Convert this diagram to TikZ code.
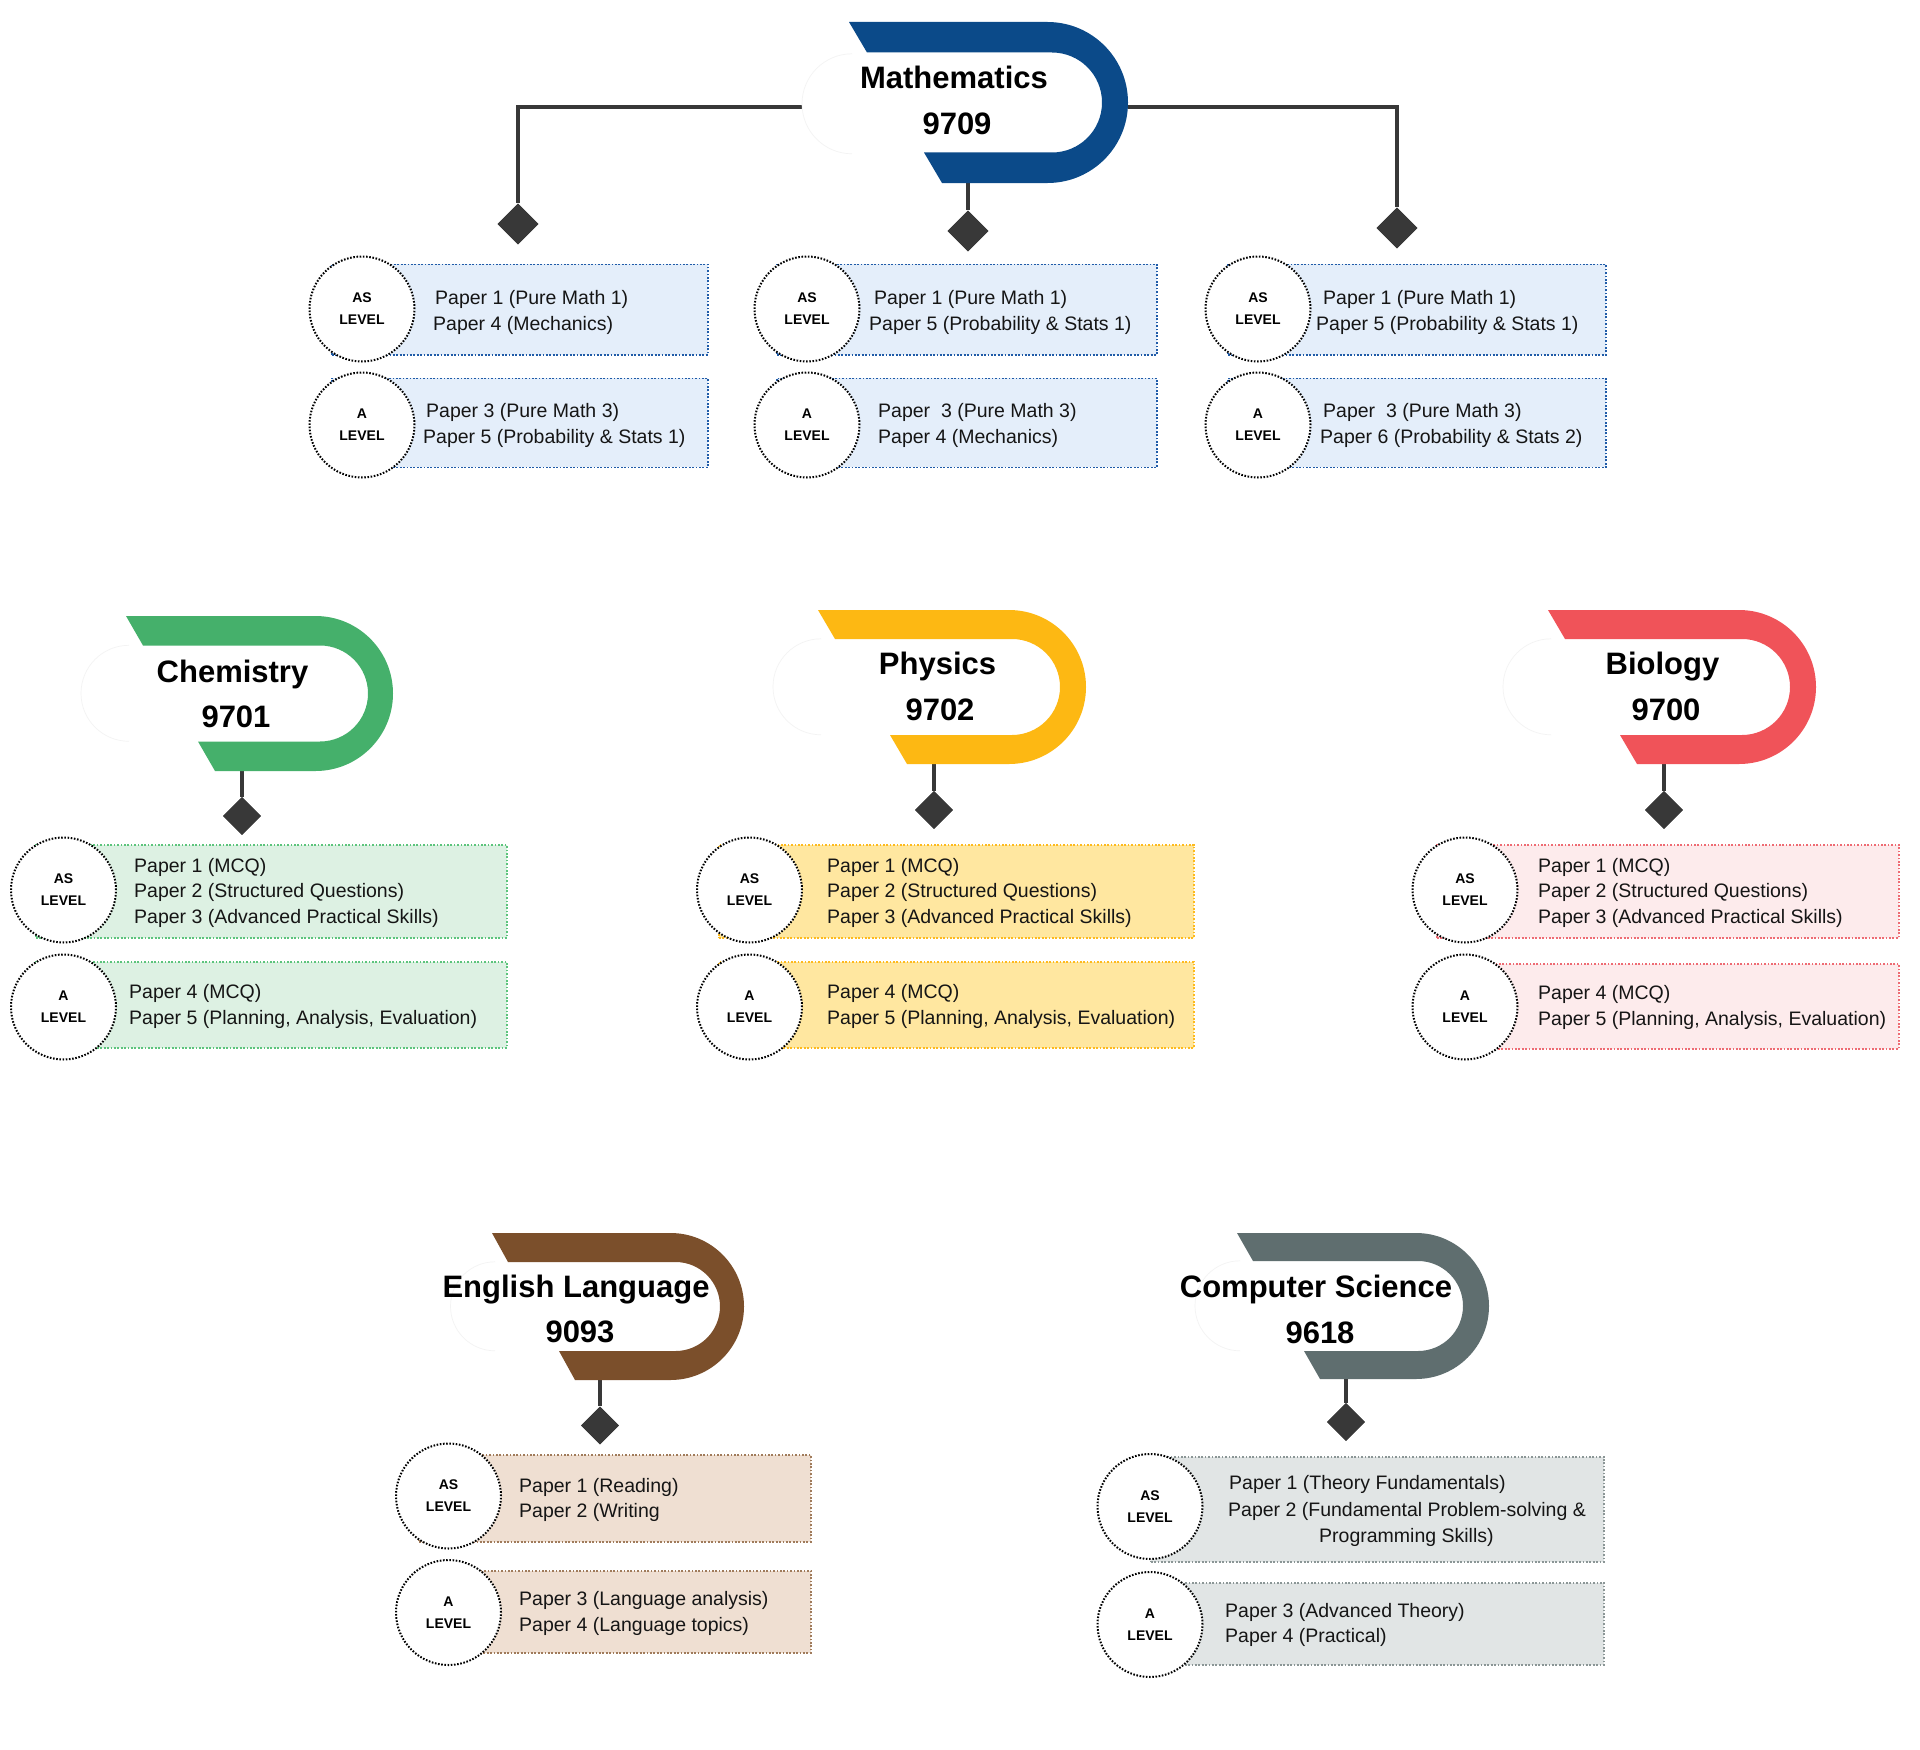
\documentclass[tikz,border=0pt]{standalone}
\usepackage{fontspec}
\setmainfont{Liberation Sans}
\usetikzlibrary{shapes.geometric}
\definecolor{connc}{HTML}{383838}
\definecolor{haloc}{HTML}{F3F3F3}
\definecolor{txtc}{HTML}{151515}
\definecolor{mathc}{HTML}{0B4A89}
\definecolor{mathf}{HTML}{E4EEFA}
\definecolor{mathb}{HTML}{1F5BA8}
\definecolor{chemc}{HTML}{45B06B}
\definecolor{chemf}{HTML}{DDF1E3}
\definecolor{chemb}{HTML}{5CC47C}
\definecolor{physc}{HTML}{FDB813}
\definecolor{physf}{HTML}{FFE7A0}
\definecolor{physb}{HTML}{FDBA1E}
\definecolor{bioc}{HTML}{F05359}
\definecolor{biof}{HTML}{FDEBEC}
\definecolor{biob}{HTML}{EE6B73}
\definecolor{engc}{HTML}{7B4F2B}
\definecolor{engf}{HTML}{EFDFD2}
\definecolor{engb}{HTML}{A07B5B}
\definecolor{csc}{HTML}{5F6E6F}
\definecolor{csf}{HTML}{E1E5E5}
\definecolor{csb}{HTML}{8B9696}
% #1 colour, #2 x0, #3 top, #4 bottom, #5 band, #6 slant, #7 bottom band offset, #8 outer right, #9 inner right
\newcommand{\subjshape}[9]{%
  \pgfmathsetmacro\shRo{(#4-#3)/2}%
  \pgfmathsetmacro\shRi{\shRo-#5}%
  \pgfmathsetmacro\shcxo{#8-\shRo}%
  \pgfmathsetmacro\shcxi{#9-\shRi}%
  \pgfmathsetmacro\shyit{#3+#5}%
  \pgfmathsetmacro\shyib{#4-#5}%
  \fill[#1] (#2,#3) -- (\shcxo,#3) arc[start angle=-90,end angle=90,radius=\shRo]
    -- ({#2+#7+#6},#4) -- ({#2+#7},\shyib) -- (\shcxi,\shyib)
    arc[start angle=90,end angle=-90,radius=\shRi] -- ({#2+#6},\shyit) -- cycle;
}
% faint white disc behind a title: #1 name, #2 x, #3 y, #4 radius
\newcommand{\halodisc}[4]{%
  \node[halo, minimum size=2*#4 pt] (#1) at (#2,#3) {};
  \draw[haloc, line width=0.7pt] (#1.north) arc[start angle=-90,end angle=-270,radius=#4];
}
\tikzset{
  conn/.style={draw=connc, line width=4.5pt},
  dia/.style={diamond, fill=connc, inner sep=0pt, minimum size=38pt},
  lvlc/.style={circle, draw=black, fill=white, line width=2pt, dash pattern=on 1.6pt off 1.6pt,
    minimum size=105pt, inner sep=0pt, align=center, text=black,
    font=\fontsize{14}{22}\selectfont\bfseries},
  pbox/.style={rectangle, line width=1.6pt, dash pattern=on 1.7pt off 1.7pt, inner sep=0pt, anchor=north west},
  ptext/.style={anchor=base west, inner sep=0pt, text=txtc, font=\fontsize{19.5}{23}\selectfont},
  ttl/.style={anchor=base, inner sep=0pt, text=black, font=\fontsize{31}{37}\selectfont\bfseries},
  halo/.style={circle, fill=white, draw=none, inner sep=0pt},
}
\begin{document}
\begin{tikzpicture}[x=1pt,y=-1pt]
\useasboundingbox (0,0) rectangle (1920,1750);
\fill[white] (0,0) rectangle (1920,1750);

% ================= MATHEMATICS =================
\coordinate (m-l) at (802,107);
\coordinate (m-r) at (1128,107);
\coordinate (m-b) at (968,183);
\node[dia, minimum size=41pt] (m-d1) at (518,224) {};
\node[dia, minimum size=41pt] (m-d2) at (968,231) {};
\node[dia, minimum size=41pt] (m-d3) at (1397,228) {};
\draw[conn] (m-l) -| (m-d1.north);
\draw[conn] (m-r) -| (m-d3.north);
\draw[conn] (m-b) -- (m-d2.north);
\node[dia, minimum size=41pt] at (m-d1) {};
\node[dia, minimum size=41pt] at (m-d2) {};
\node[dia, minimum size=41pt] at (m-d3) {};
\halodisc{m-halo}{852}{104}{50}
\subjshape{mathc}{849}{22}{183}{30.5}{18}{75}{1128}{1102}
\node[ttl] (m-t1) at (954,89) {Mathematics};
\node[ttl] (m-t2) at (957,135) {9709};

% column 1
\node[pbox, draw=mathb, fill=mathf, minimum width=376pt, minimum height=90.5pt] (m1-asbox) at (331,263.5) {};
\node[lvlc] (m1-as) at (362,309) {AS\\LEVEL};
\node[ptext] (m1-as1) at (435,304) {Paper 1 (Pure Math 1)};
\node[ptext] (m1-as2) at (433,330) {Paper 4 (Mechanics)};
\node[pbox, draw=mathb, fill=mathf, minimum width=376pt, minimum height=89pt] (m1-abox) at (331,377.5) {};
\node[lvlc] (m1-a) at (362,425) {A\\LEVEL};
\node[ptext] (m1-a1) at (426,417) {Paper 3 (Pure Math 3)};
\node[ptext] (m1-a2) at (423,443) {Paper 5 (Probability \& Stats 1)};
% column 2
\node[pbox, draw=mathb, fill=mathf, minimum width=380pt, minimum height=90.5pt] (m2-asbox) at (776,263.5) {};
\node[lvlc] (m2-as) at (807,309) {AS\\LEVEL};
\node[ptext] (m2-as1) at (874,304) {Paper 1 (Pure Math 1)};
\node[ptext] (m2-as2) at (869,330) {Paper 5 (Probability \& Stats 1)};
\node[pbox, draw=mathb, fill=mathf, minimum width=380pt, minimum height=89pt] (m2-abox) at (776,377.5) {};
\node[lvlc] (m2-a) at (807,425) {A\\LEVEL};
\node[ptext] (m2-a1) at (878,417) {Paper\ \ 3 (Pure Math 3)};
\node[ptext] (m2-a2) at (878,443) {Paper 4 (Mechanics)};
% column 3
\node[pbox, draw=mathb, fill=mathf, minimum width=378pt, minimum height=90.5pt] (m3-asbox) at (1227,263.5) {};
\node[lvlc] (m3-as) at (1258,309) {AS\\LEVEL};
\node[ptext] (m3-as1) at (1323,304) {Paper 1 (Pure Math 1)};
\node[ptext] (m3-as2) at (1316,330) {Paper 5 (Probability \& Stats 1)};
\node[pbox, draw=mathb, fill=mathf, minimum width=378pt, minimum height=89pt] (m3-abox) at (1227,377.5) {};
\node[lvlc] (m3-a) at (1258,425) {A\\LEVEL};
\node[ptext] (m3-a1) at (1323,417) {Paper\ \ 3 (Pure Math 3)};
\node[ptext] (m3-a2) at (1320,443) {Paper 6 (Probability \& Stats 2)};

% ================= CHEMISTRY =================
\coordinate (c-b) at (242,771);
\node[dia] (c-d) at (242,816) {};
\draw[conn] (c-b) -- (c-d.north);
\node[dia] at (c-d) {};
\halodisc{c-halo}{129}{693.5}{48}
\subjshape{chemc}{126}{616}{771}{29.5}{17}{72}{393}{368}
\node[ttl] (c-t1) at (232.5,682) {Chemistry};
\node[ttl] (c-t2) at (236,727) {9701};
\node[pbox, draw=chemb, fill=chemf, minimum width=471pt, minimum height=93pt] (c-asbox) at (35,844) {};
\node[lvlc] (c-as) at (63.5,890) {AS\\LEVEL};
\node[ptext] (c-as1) at (134,872) {Paper 1 (MCQ)};
\node[ptext] (c-as2) at (134,897.5) {Paper 2 (Structured Questions)};
\node[ptext] (c-as3) at (134,923) {Paper 3 (Advanced Practical Skills)};
\node[pbox, draw=chemb, fill=chemf, minimum width=471pt, minimum height=86pt] (c-abox) at (35,961) {};
\node[lvlc] (c-a) at (63.5,1007) {A\\LEVEL};
\node[ptext] (c-a1) at (129,998) {Paper 4 (MCQ)};
\node[ptext] (c-a2) at (129,1024) {Paper 5 (Planning, Analysis, Evaluation)};

% ================= PHYSICS =================
\coordinate (p-b) at (934,764);
\node[dia] (p-d) at (934,810) {};
\draw[conn] (p-b) -- (p-d.north);
\node[dia] at (p-d) {};
\halodisc{p-halo}{821}{687}{48}
\subjshape{physc}{818}{610}{764}{29}{17}{72}{1086}{1060}
\node[ttl] (p-t1) at (937.5,674) {Physics};
\node[ttl] (p-t2) at (940,720) {9702};
\node[pbox, draw=physb, fill=physf, minimum width=475pt, minimum height=93pt] (p-asbox) at (718,844) {};
\node[lvlc] (p-as) at (749.5,890) {AS\\LEVEL};
\node[ptext] (p-as1) at (827,872) {Paper 1 (MCQ)};
\node[ptext] (p-as2) at (827,897.5) {Paper 2 (Structured Questions)};
\node[ptext] (p-as3) at (827,923) {Paper 3 (Advanced Practical Skills)};
\node[pbox, draw=physb, fill=physf, minimum width=475pt, minimum height=86pt] (p-abox) at (718,961) {};
\node[lvlc] (p-a) at (749.5,1007) {A\\LEVEL};
\node[ptext] (p-a1) at (827,998) {Paper 4 (MCQ)};
\node[ptext] (p-a2) at (827,1024) {Paper 5 (Planning, Analysis, Evaluation)};

% ================= BIOLOGY =================
\coordinate (b-b) at (1664,764);
\node[dia] (b-d) at (1664,810) {};
\draw[conn] (b-b) -- (b-d.north);
\node[dia] at (b-d) {};
\halodisc{b-halo}{1551}{687}{48}
\subjshape{bioc}{1548}{610}{764}{29}{17}{72}{1816}{1790}
\node[ttl] (b-t1) at (1662.5,674) {Biology};
\node[ttl] (b-t2) at (1666,720) {9700};
\node[pbox, draw=biob, fill=biof, minimum width=462pt, minimum height=93pt] (b-asbox) at (1436,844) {};
\node[lvlc] (b-as) at (1465,890) {AS\\LEVEL};
\node[ptext] (b-as1) at (1538,872) {Paper 1 (MCQ)};
\node[ptext] (b-as2) at (1538,897.5) {Paper 2 (Structured Questions)};
\node[ptext] (b-as3) at (1538,923) {Paper 3 (Advanced Practical Skills)};
\node[pbox, draw=biob, fill=biof, minimum width=462pt, minimum height=85pt] (b-abox) at (1436,963) {};
\node[lvlc] (b-a) at (1465,1007) {A\\LEVEL};
\node[ptext] (b-a1) at (1538,999) {Paper 4 (MCQ)};
\node[ptext] (b-a2) at (1538,1025) {Paper 5 (Planning, Analysis, Evaluation)};

% ================= ENGLISH LANGUAGE =================
\coordinate (e-b) at (600,1380);
\node[dia] (e-d) at (600,1425.5) {};
\draw[conn] (e-b) -- (e-d.north);
\node[dia] at (e-d) {};
\halodisc{e-halo}{495}{1306.5}{44.5}
\subjshape{engc}{492}{1233}{1380}{29}{16}{67}{744}{720}
\node[ttl] (e-t1) at (576,1297) {English Language};
\node[ttl] (e-t2) at (580,1342) {9093};
\node[pbox, draw=engb, fill=engf, minimum width=392pt, minimum height=87pt] (e-asbox) at (418,1454) {};
\node[lvlc] (e-as) at (448.5,1496) {AS\\LEVEL};
\node[ptext] (e-as1) at (519,1492) {Paper 1 (Reading)};
\node[ptext] (e-as2) at (519,1517) {Paper 2 (Writing};
\node[pbox, draw=engb, fill=engf, minimum width=392pt, minimum height=82pt] (e-abox) at (418,1570) {};
\node[lvlc] (e-a) at (448.5,1612.5) {A\\LEVEL};
\node[ptext] (e-a1) at (519,1605) {Paper 3 (Language analysis)};
\node[ptext] (e-a2) at (519,1631) {Paper 4 (Language topics)};

% ================= COMPUTER SCIENCE =================
\coordinate (s-b) at (1346,1379);
\node[dia] (s-d) at (1346,1422) {};
\draw[conn] (s-b) -- (s-d.north);
\node[dia] at (s-d) {};
\halodisc{s-halo}{1240}{1306}{45}
\subjshape{csc}{1237}{1233}{1379}{28}{16}{67}{1489}{1463}
\node[ttl] (s-t1) at (1316,1297) {Computer Science};
\node[ttl] (s-t2) at (1320,1343) {9618};
\node[pbox, draw=csb, fill=csf, minimum width=453pt, minimum height=105pt] (s-asbox) at (1150,1456) {};
\node[lvlc] (s-as) at (1150,1506.5) {AS\\LEVEL};
\node[ptext] (s-as1) at (1229,1489) {Paper 1 (Theory Fundamentals)};
\node[ptext] (s-as2) at (1228,1516) {Paper 2 (Fundamental Problem-solving \&};
\node[ptext] (s-as3) at (1319,1542) {Programming Skills)};
\node[pbox, draw=csb, fill=csf, minimum width=453pt, minimum height=82pt] (s-abox) at (1150,1582) {};
\node[lvlc] (s-a) at (1150,1624.5) {A\\LEVEL};
\node[ptext] (s-a1) at (1225,1617) {Paper 3 (Advanced Theory)};
\node[ptext] (s-a2) at (1225,1642) {Paper 4 (Practical)};
\end{tikzpicture}
\end{document}
